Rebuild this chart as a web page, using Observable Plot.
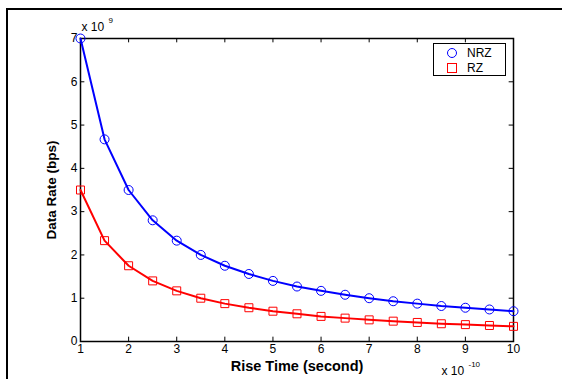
<!DOCTYPE html>
<html>
<head>
<meta charset="utf-8">
<script src="https://cdn.jsdelivr.net/npm/d3@7"></script>
<script src="https://cdn.jsdelivr.net/npm/@observablehq/plot@0.6"></script>
<style>
  body { margin: 0; background: #fff; }
  #wrap { position: relative; width: 562px; height: 379px; overflow: hidden; font-family: "Liberation Sans", Arial, sans-serif; }
  #outer { position: absolute; left: 6px; top: 8px; width: 600px; height: 400px; border-top: 2px solid #000; border-left: 2px solid #000; box-sizing: border-box; }
  #chart { position: absolute; left: 0; top: 0; }
  #legend { position: absolute; left: 433px; top: 43px; width: 73px; height: 33px; border: 1px solid #000; background: #fff; box-sizing: border-box; font-size: 12px; }
  #legend .row { position: absolute; left: 0; height: 14px; display: flex; align-items: center; }
  #legend svg { margin-left: 12px; }
  #legend span { margin-left: 9px; }
</style>
</head>
<body>
<div id="wrap">
  <div id="outer"></div>
  <div id="chart"></div>
  <div id="legend"></div>
</div>
<script>
// Rise time (x 10^-10 s)
const riseTime = [1, 1.5, 2, 2.5, 3, 3.5, 4, 4.5, 5, 5.5, 6, 6.5, 7, 7.5, 8, 8.5, 9, 9.5, 10];
// Data rate (x 10^9 bps)
const nrz = [7, 4.67, 3.5, 2.8, 2.33, 2.0, 1.75, 1.56, 1.4, 1.27, 1.17, 1.08, 1.0, 0.93, 0.875, 0.82, 0.78, 0.74, 0.7];
const rz  = [3.5, 2.33, 1.75, 1.4, 1.17, 1.0, 0.875, 0.78, 0.7, 0.64, 0.58, 0.54, 0.5, 0.47, 0.44, 0.41, 0.39, 0.37, 0.35];
const xTicks = [1, 2, 3, 4, 5, 6, 7, 8, 9, 10];
const yTicks = [0, 1, 2, 3, 4, 5, 6, 7];
const seriesNames = ["NRZ", "RZ"];
const seriesColors = ["#0000ff", "#ff0000"];

const nrzData = riseTime.map((t, i) => ({t, v: nrz[i]}));
const rzData = riseTime.map((t, i) => ({t, v: rz[i]}));

const chart = Plot.plot({
  width: 562,
  height: 379,
  marginLeft: 80,
  marginRight: 49,
  marginTop: 38,
  marginBottom: 38,
  style: {fontFamily: "'Liberation Sans', Arial, sans-serif", fontSize: "12px", color: "#000", background: "transparent"},
  x: {domain: [1, 10]},
  y: {domain: [0, 7]},
  marks: [
    Plot.frame({stroke: "#000", strokeWidth: 1.5}),
    Plot.axisX({ticks: xTicks, tickSize: 0, tickPadding: 3, label: null, tickFormat: d => String(d)}),
    Plot.axisY({ticks: yTicks, tickSize: 0, tickPadding: 3, label: null, tickFormat: d => String(d)}),
    // inward ticks
    Plot.ruleX(xTicks, {x: d => d, y1: 0, y2: 0.1, stroke: "#000"}),
    Plot.ruleX(xTicks, {x: d => d, y1: 7, y2: 6.9, stroke: "#000"}),
    Plot.ruleY(yTicks, {y: d => d, x1: 1, x2: 1.09, stroke: "#000"}),
    Plot.ruleY(yTicks, {y: d => d, x1: 10, x2: 9.91, stroke: "#000"}),
    // data
    Plot.line(rzData, {x: "t", y: "v", stroke: seriesColors[1], strokeWidth: 2}),
    Plot.dot(rzData, {x: "t", y: "v", symbol: "square", r: 4.5, stroke: seriesColors[1], strokeWidth: 1, fill: "none"}),
    Plot.line(nrzData, {x: "t", y: "v", stroke: seriesColors[0], strokeWidth: 2}),
    Plot.dot(nrzData, {x: "t", y: "v", symbol: "circle", r: 4.5, stroke: seriesColors[0], strokeWidth: 1, fill: "none"}),
    // axis labels
    Plot.text(["Rise Time (second)"], {frameAnchor: "bottom", textAnchor: "middle", lineAnchor: "middle", dy: 25, fontWeight: "bold", fontSize: 14.5}),
    Plot.text(["Data Rate (bps)"], {frameAnchor: "left", textAnchor: "middle", lineAnchor: "middle", dx: -29, rotate: -90, fontWeight: "bold", fontSize: 13.5}),
    // exponent labels
    Plot.text(["x 10"], {frameAnchor: "top-left", textAnchor: "start", lineAnchor: "middle", dx: 1, dy: -11, fontSize: 12}),
    Plot.text(["9"], {frameAnchor: "top-left", textAnchor: "start", lineAnchor: "middle", dx: 28, dy: -18, fontSize: 8}),
    Plot.text(["x 10"], {frameAnchor: "bottom-right", textAnchor: "start", lineAnchor: "middle", dx: -72, dy: 30, fontSize: 12}),
    Plot.text(["-10"], {frameAnchor: "bottom-right", textAnchor: "start", lineAnchor: "middle", dx: -45, dy: 23, fontSize: 8})
  ]
});
document.getElementById("chart").appendChild(chart);

// legend
const legend = document.getElementById("legend");
seriesNames.forEach((name, i) => {
  const row = document.createElement("div");
  row.className = "row";
  row.style.top = (2 + i * 15) + "px";
  const shape = i === 0
    ? `<circle cx="6" cy="6" r="4.5" fill="none" stroke="${seriesColors[i]}" stroke-width="1"/>`
    : `<rect x="1.5" y="1.5" width="9" height="9" fill="none" stroke="${seriesColors[i]}" stroke-width="1"/>`;
  row.innerHTML = `<svg width="12" height="12">${shape}</svg><span>${name}</span>`;
  legend.appendChild(row);
});
</script>
</body>
</html>
